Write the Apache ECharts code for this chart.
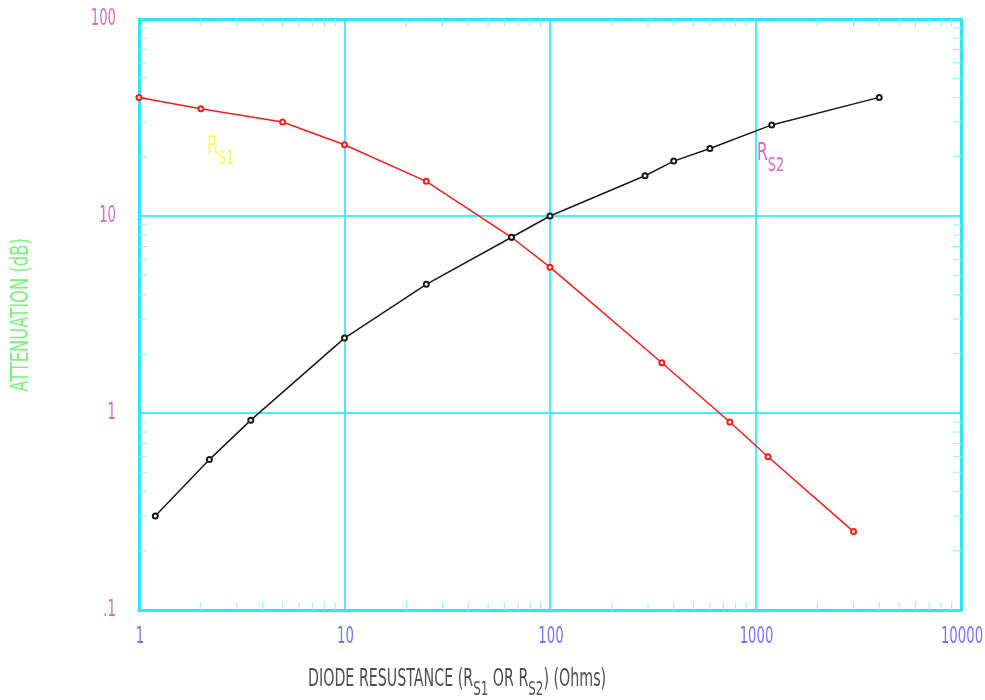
<!DOCTYPE html>
<html>
<head>
<meta charset="utf-8">
<script src="https://cdn.jsdelivr.net/npm/echarts@6/dist/echarts.min.js"></script>
<style>
  html, body { margin: 0; padding: 0; background: #fff; overflow: hidden; }
  #chart { width: 985px; height: 700px; }
</style>
</head>
<body>
<div id="chart"></div>
<script>
// Diode attenuation vs. series resistance (log-log)
const rs1Resistance = [1, 2, 5, 10, 25, 65, 100, 350, 750, 1150, 3000];
const rs1Attenuation = [40, 35, 30, 23, 15, 7.8, 5.5, 1.8, 0.9, 0.6, 0.25];

const rs2Resistance = [1.2, 2.2, 3.5, 10, 25, 65, 100, 290, 400, 600, 1200, 4000];
const rs2Attenuation = [0.30, 0.58, 0.92, 2.4, 4.5, 7.8, 10, 16, 19, 22, 29, 40];

const xTickValues = [1, 10, 100, 1000, 10000];
const xTickLabels = ['1', '10', '100', '1000', '10000'];
const yTickValues = [0.1, 1, 10, 100];
const yTickLabels = ['.1', '1', '10', '100'];

const xMinorTicks = [2,3,4,5,6,7,8,9, 20,30,40,50,60,70,80,90, 200,300,400,500,600,700,800,900, 2000,3000,4000,5000,6000,7000,8000,9000];
const yMinorTicks = [0.2,0.3,0.4,0.5,0.6,0.7,0.8,0.9, 2,3,4,5,6,7,8,9, 20,30,40,50,60,70,80,90];

const X_MIN = 1, X_MAX = 10000, Y_MIN = 0.1, Y_MAX = 100;
const FONT = '"Liberation Sans Narrow", "DejaVu Sans Condensed", "Liberation Sans", sans-serif';
const FRAME = '#2ee6f5';
const GRID = '#44f0f4';
const TICK = '#8cf4f8';
const LABEL_SCALE = 0.64;

function pairs(xs, ys) { return xs.map((x, i) => [x, ys[i]]); }

const chart = echarts.init(document.getElementById('chart'), null, { renderer: 'canvas', width: 985, height: 700 });

const TL = 8; // minor tick length

const frameAxis = {
  type: 'log', logBase: 10,
  axisLine: { show: true, lineStyle: { color: FRAME, width: 3 } },
  axisTick: { show: false },
  axisLabel: { show: false }
};

chart.setOption({
  animation: false,
  backgroundColor: '#ffffff',
  grid: { left: 139, right: 24, top: 19, bottom: 90, containLabel: false, outerBoundsMode: 'none' },
  xAxis: [
    Object.assign({}, frameAxis, { min: X_MIN, max: X_MAX, position: 'bottom',
      splitLine: { show: true, lineStyle: { color: GRID, width: 2 } } }),
    Object.assign({}, frameAxis, { min: X_MIN, max: X_MAX, position: 'top', splitLine: { show: false } })
  ],
  yAxis: [
    Object.assign({}, frameAxis, { min: Y_MIN, max: Y_MAX, position: 'left',
      splitLine: { show: true, lineStyle: { color: GRID, width: 2 } } }),
    Object.assign({}, frameAxis, { min: Y_MIN, max: Y_MAX, position: 'right', splitLine: { show: false } })
  ],
  series: [
    {
      // minor ticks along the bottom and top edges
      type: 'custom', coordinateSystem: 'cartesian2d', xAxisIndex: 0, yAxisIndex: 0,
      silent: true, z: 1,
      data: xMinorTicks.map(v => [v, 1]),
      renderItem: function (params, api) {
        const v = api.value(0);
        const b = api.coord([v, Y_MIN]);
        const t = api.coord([v, Y_MAX]);
        const style = { stroke: TICK, lineWidth: 1 };
        return { type: 'group', children: [
          { type: 'line', shape: { x1: b[0], y1: b[1], x2: b[0], y2: b[1] - TL }, style },
          { type: 'line', shape: { x1: t[0], y1: t[1], x2: t[0], y2: t[1] + TL }, style }
        ] };
      }
    },
    {
      // minor ticks along the left and right edges
      type: 'custom', coordinateSystem: 'cartesian2d', xAxisIndex: 0, yAxisIndex: 0,
      silent: true, z: 1,
      data: yMinorTicks.map(v => [10, v]),
      renderItem: function (params, api) {
        const v = api.value(1);
        const l = api.coord([X_MIN, v]);
        const r = api.coord([X_MAX, v]);
        const style = { stroke: TICK, lineWidth: 1 };
        return { type: 'group', children: [
          { type: 'line', shape: { x1: l[0], y1: l[1], x2: l[0] + TL, y2: l[1] }, style },
          { type: 'line', shape: { x1: r[0], y1: r[1], x2: r[0] - TL, y2: r[1] }, style }
        ] };
      }
    },
    {
      // decade labels under the x axis (narrow lettering)
      type: 'custom', coordinateSystem: 'cartesian2d', xAxisIndex: 0, yAxisIndex: 0,
      silent: true, z: 2,
      data: xTickValues.map(v => [v, 1]),
      renderItem: function (params, api) {
        const p = api.coord([api.value(0), Y_MIN]);
        return {
          type: 'text', x: p[0] + 1, y: p[1] + 27, scaleX: LABEL_SCALE,
          style: { text: xTickLabels[params.dataIndex], fill: '#7474ff',
            fontFamily: FONT, fontSize: 23, align: 'center', verticalAlign: 'middle' }
        };
      }
    },
    {
      // decade labels left of the y axis
      type: 'custom', coordinateSystem: 'cartesian2d', xAxisIndex: 0, yAxisIndex: 0,
      silent: true, z: 2,
      data: yTickValues.map(v => [10, v]),
      renderItem: function (params, api) {
        const p = api.coord([X_MIN, api.value(1)]);
        return {
          type: 'text', x: p[0] - 23, y: p[1], scaleX: LABEL_SCALE,
          style: { text: yTickLabels[params.dataIndex], fill: '#d46cc8',
            fontFamily: FONT, fontSize: 23, align: 'right', verticalAlign: 'middle' }
        };
      }
    },
    {
      name: 'RS1', type: 'line', z: 3,
      data: pairs(rs1Resistance, rs1Attenuation),
      symbol: 'emptyCircle', symbolSize: 5,
      lineStyle: { color: '#ff1a1a', width: 1.5 },
      itemStyle: { color: '#ff1a1a', borderWidth: 1.2 }
    },
    {
      name: 'RS2', type: 'line', z: 4,
      data: pairs(rs2Resistance, rs2Attenuation),
      symbol: 'emptyCircle', symbolSize: 5,
      lineStyle: { color: '#1a1a1a', width: 1.5 },
      itemStyle: { color: '#1a1a1a', borderWidth: 1.2 }
    }
  ],
  graphic: [
    {
      type: 'text', x: 308, y: 668, scaleX: 0.66,
      style: {
        text: '{m|DIODE RESUSTANCE (R}{s|S1}{m| OR R}{s|S2}{m|) (Ohms)}',
        fill: '#505050',
        rich: {
          m: { fontFamily: FONT, fontSize: 24, fill: '#505050', verticalAlign: 'top', lineHeight: 32 },
          s: { fontFamily: FONT, fontSize: 20, fill: '#505050', verticalAlign: 'bottom', lineHeight: 32 }
        }
      }
    },
    {
      type: 'text', x: 22, y: 315, rotation: Math.PI / 2, scaleX: 0.76,
      style: {
        text: 'ATTENUATION (dB)', font: '24px ' + FONT, fill: '#7cf07c',
        align: 'center', verticalAlign: 'middle'
      }
    },
    {
      type: 'text', x: 207, y: 135, scaleX: 0.72,
      style: {
        text: '{m|R}{s|S1}', fill: '#ffff5a',
        rich: {
          m: { fontFamily: FONT, fontSize: 24, fill: '#ffff5a', verticalAlign: 'top', lineHeight: 34 },
          s: { fontFamily: FONT, fontSize: 20, fill: '#ffff5a', verticalAlign: 'bottom', lineHeight: 34 }
        }
      }
    },
    {
      type: 'text', x: 757, y: 142, scaleX: 0.72,
      style: {
        text: '{m|R}{s|S2}', fill: '#e064c4',
        rich: {
          m: { fontFamily: FONT, fontSize: 24, fill: '#e064c4', verticalAlign: 'top', lineHeight: 34 },
          s: { fontFamily: FONT, fontSize: 20, fill: '#e064c4', verticalAlign: 'bottom', lineHeight: 34 }
        }
      }
    }
  ]
});
</script>
</body>
</html>
